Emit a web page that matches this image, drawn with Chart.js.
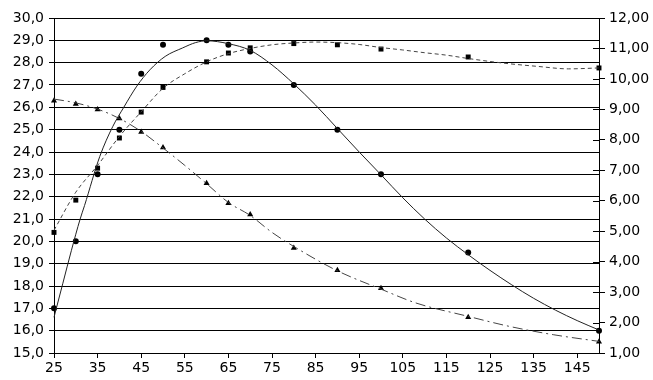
<!DOCTYPE html>
<html>
<head>
<meta charset="utf-8">
<script src="https://cdn.jsdelivr.net/npm/chart.js@4.4.1/dist/chart.umd.min.js"></script>
<style>
html,body{margin:0;padding:0;background:#fff;}
#wrap{width:653px;height:380px;position:relative;}
</style>
</head>
<body>
<div id="wrap"><canvas id="c"></canvas></div>
<script>
// Measured points
const xPts = [25, 30, 35, 40, 45, 50, 60, 65, 70, 80, 90, 100, 120, 150];
const circleVals = [17.0, 20.0, 23.0, 25.0, 27.5, 28.8, 29.0, 28.8, 28.5, 27.0, 25.0, 23.0, 19.5, 16.0]; // left axis
const squareVals = [4.96, 6.02, 7.07, 8.06, 8.91, 9.72, 10.56, 10.85, 11.02, 11.16, 11.12, 10.98, 10.72, 10.36]; // right axis
const triangleVals = [26.3, 26.15, 25.9, 25.5, 24.9, 24.2, 22.6, 21.7, 21.2, 19.7, 18.7, 17.9, 16.6, 15.5]; // left axis

// Trend curves
const solidTrendX = [25, 27, 29, 31, 32, 35.5, 38.5, 41, 44, 47, 50.5, 54.5, 57.5, 60, 65, 70, 75, 80, 85, 90, 95, 100, 105, 110, 115, 120, 125, 130, 135, 140, 145, 150];
const solidTrendY = [16.6, 18.1, 19.6, 21.0, 21.6, 23.8, 25.15, 26.0, 26.95, 27.68, 28.28, 28.66, 28.9, 28.98, 28.85, 28.55, 27.9, 27.05, 26.1, 25.05, 24.0, 22.98, 21.95, 21.0, 20.15, 19.4, 18.7, 18.05, 17.45, 16.92, 16.45, 16.03];

const dashTrendX = [25, 30, 35, 40, 45, 50, 55, 60, 65, 70, 75, 80, 85, 90, 95, 100, 105, 110, 115, 120, 128, 136, 143, 150];
const dashTrendY = [5.03, 6.28, 7.16, 8.11, 8.92, 9.69, 10.17, 10.56, 10.83, 11.00, 11.12, 11.18, 11.21, 11.19, 11.13, 11.03, 10.95, 10.86, 10.78, 10.67, 10.52, 10.41, 10.33, 10.36];

const dotTrendX = [25, 30, 35, 40, 45, 50, 55, 60, 65, 70, 75, 80, 90, 100, 108, 120, 129.5, 139.5, 150];
const dotTrendY = [26.37, 26.2, 25.92, 25.5, 24.92, 24.18, 23.4, 22.58, 21.74, 21.16, 20.4, 19.77, 18.68, 17.86, 17.24, 16.64, 16.19, 15.82, 15.52];

const xTickVals = [25, 35, 45, 55, 65, 75, 85, 95, 105, 115, 125, 135, 145];
const leftMin = 15, leftMax = 30, rightMin = 1, rightMax = 12;

const pts = (xs, ys) => xs.map((x, i) => ({x: x, y: ys[i]}));
const FONT = {family: "'DejaVu Sans', sans-serif", size: 14};

const rightInnerTicks = {
  id: 'rightInnerTicks',
  afterDraw(chart) {
    const s = chart.scales.y2;
    const ctx = chart.ctx;
    ctx.save();
    ctx.strokeStyle = '#000';
    ctx.lineWidth = 1;
    s.ticks.forEach(t => {
      const y = Math.round(s.getPixelForValue(t.value)) + 0.5;
      ctx.beginPath();
      ctx.moveTo(s.left - 6, y);
      ctx.lineTo(s.left, y);
      ctx.stroke();
    });
    ctx.restore();
  }
};

new Chart(document.getElementById('c'), {
  type: 'scatter',
  data: {
    datasets: [
      {label: 'trend1', data: pts(solidTrendX, solidTrendY), yAxisID: 'y', showLine: true, pointRadius: 0,
       borderColor: '#222', borderWidth: 1, cubicInterpolationMode: 'monotone', fill: false},
      {label: 'trend2', data: pts(dashTrendX, dashTrendY), yAxisID: 'y2', showLine: true, pointRadius: 0,
       borderColor: '#444', borderWidth: 1, borderDash: [4, 3], cubicInterpolationMode: 'monotone', fill: false},
      {label: 'trend3', data: pts(dotTrendX, dotTrendY), yAxisID: 'y', showLine: true, pointRadius: 0,
       borderColor: '#444', borderWidth: 1, borderDash: [10, 4, 2, 4], cubicInterpolationMode: 'monotone', fill: false},
      {label: 'circles', data: pts(xPts, circleVals), yAxisID: 'y', showLine: false, pointStyle: 'circle',
       pointRadius: 3, backgroundColor: '#000', borderColor: '#000', borderWidth: 0},
      {label: 'squares', data: pts(xPts, squareVals), yAxisID: 'y2', showLine: false, pointStyle: 'rect',
       pointRadius: 3.5, backgroundColor: '#000', borderColor: '#000', borderWidth: 0},
      {label: 'triangles', data: pts(xPts, triangleVals), yAxisID: 'y', showLine: false, pointStyle: 'triangle',
       pointRadius: 3.5, backgroundColor: '#000', borderColor: '#000', borderWidth: 0}
    ]
  },
  options: {
    responsive: true,
    maintainAspectRatio: false,
    animation: false,
    clip: false,
    layout: {padding: {top: 18, left: 0, right: 0, bottom: 0}},
    plugins: {legend: {display: false}, tooltip: {enabled: false}},
    scales: {
      x: {
        type: 'linear', min: 25, max: 150,
        afterBuildTicks: (s) => { s.ticks = xTickVals.map(v => ({value: v})); },
        afterFit: (s) => { s.height = 27; },
        grid: {drawOnChartArea: false, drawTicks: true, tickLength: 5, color: '#000', tickColor: '#000'},
        border: {display: true, color: '#000'},
        ticks: {color: '#000', font: FONT, padding: 2, maxRotation: 0, autoSkip: false}
      },
      y: {
        position: 'left', min: leftMin, max: leftMax,
        afterFit: (s) => { s.width = 54; },
        grid: {drawOnChartArea: true, drawTicks: true, tickLength: 5, color: '#000', tickColor: '#000', lineWidth: 1},
        border: {display: true, color: '#000'},
        ticks: {stepSize: 1, color: '#000', font: FONT, padding: 5,
          callback: (v) => v.toFixed(1).replace('.', ',')}
      },
      y2: {
        position: 'right', min: rightMin, max: rightMax,
        afterFit: (s) => { s.width = 54; },
        grid: {drawOnChartArea: false, drawTicks: true, tickLength: 6, color: '#000', tickColor: '#000'},
        border: {display: true, color: '#000'},
        ticks: {stepSize: 1, color: '#000', font: FONT, padding: 4,
          callback: (v) => v.toFixed(2).replace('.', ',')}
      }
    }
  },
  plugins: [rightInnerTicks]
});
</script>
</body>
</html>
